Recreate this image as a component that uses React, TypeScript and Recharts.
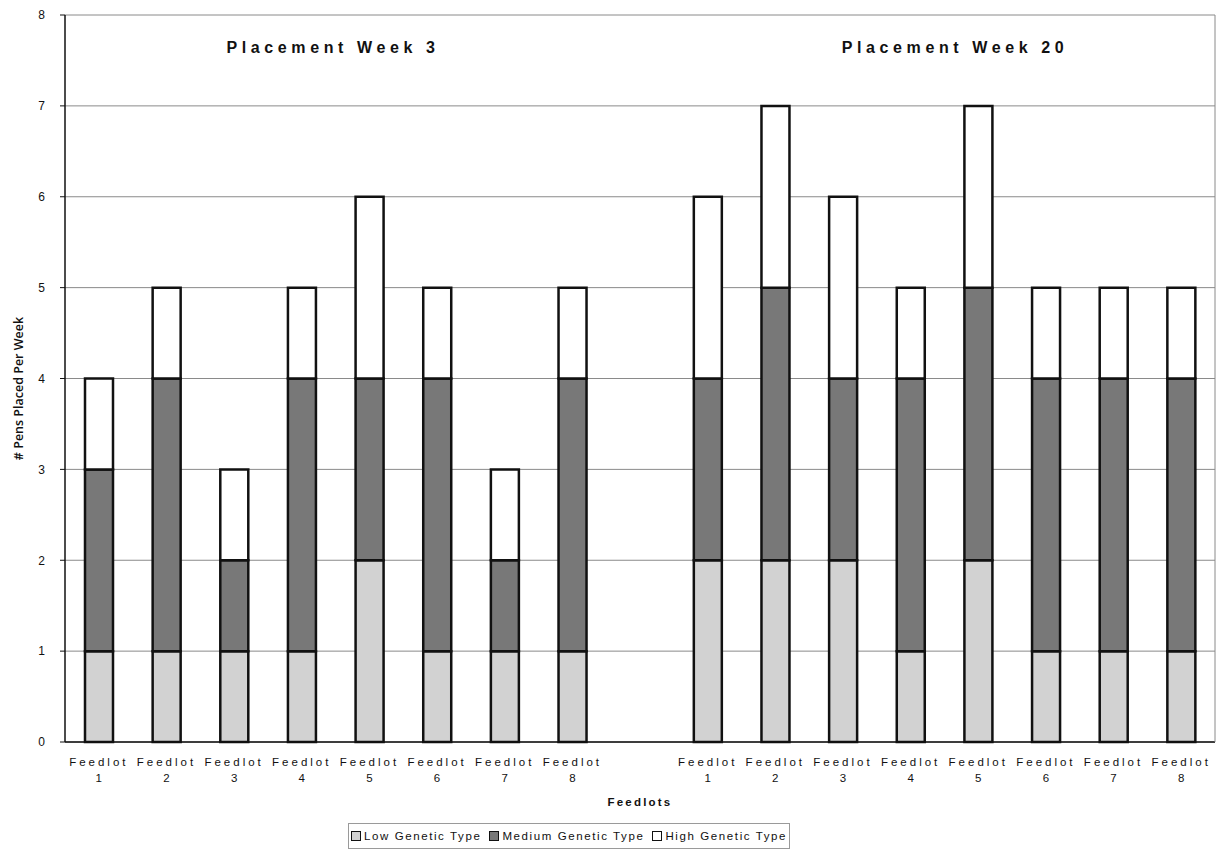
import { BarChart, Bar, XAxis, YAxis, CartesianGrid, Label } from "recharts"

// feedlot slots: week 3 block, an empty spacer, then week 20 block
const feedlots = ["1", "2", "3", "4", "5", "6", "7", "8", "", "1", "2", "3", "4", "5", "6", "7", "8"]
const lowType = [1, 1, 1, 1, 2, 1, 1, 1, null, 2, 2, 2, 1, 2, 1, 1, 1]
const mediumType = [2, 3, 1, 3, 2, 3, 1, 3, null, 2, 3, 2, 3, 3, 3, 3, 3]
const highType = [1, 1, 1, 1, 2, 1, 1, 1, null, 2, 2, 2, 1, 2, 1, 1, 1]
const yTicks = [0, 1, 2, 3, 4, 5, 6, 7, 8]

const series = [
  { key: "low", name: "Low Genetic Type", fill: "#d2d2d2" },
  { key: "medium", name: "Medium Genetic Type", fill: "#787878" },
  { key: "high", name: "High Genetic Type", fill: "#ffffff" },
]

const data = feedlots.map((f, i) => ({
  slot: `s${i}`,
  feedlot: f,
  low: lowType[i],
  medium: mediumType[i],
  high: highType[i],
}))

const font = "'Liberation Sans', Arial, sans-serif"

function FeedlotTick({ x, y, payload }: any) {
  const n = feedlots[payload.index]
  if (!n) return null
  return (
    <g transform={`translate(${x},${y})`}>
      <text x={0} y={16} textAnchor="middle" fontSize={11.5} letterSpacing={3} fill="#111" fontFamily={font}>
        Feedlot
      </text>
      <text x={0} y={32} textAnchor="middle" fontSize={11.5} fill="#111" fontFamily={font}>
        {n}
      </text>
    </g>
  )
}

// axis title rotated, sitting a little below the plot's middle
function PensLabel({ viewBox }: any) {
  const cy = viewBox.y + viewBox.height / 2 + 10
  return (
    <text
      x={18}
      y={cy}
      transform={`rotate(-90, 18, ${cy})`}
      textAnchor="middle"
      dominantBaseline="central"
      fontFamily="'Open Sans', sans-serif"
      fontSize={12.5}
      fontWeight={600}
      fill="#111"
    >
      # Pens Placed Per Week
    </text>
  )
}

const titleStyle: React.CSSProperties = {
  position: "absolute",
  top: 39,
  fontFamily: font,
  fontWeight: "bold",
  fontSize: 16,
  letterSpacing: 4.6,
  color: "#111",
  whiteSpace: "nowrap",
  transform: "translateX(-50%)",
}

export default function App() {
  return (
    <div style={{ position: "absolute", left: 0, top: 0, width: 1221, height: 852, background: "#fff" }}>
      <BarChart
        width={1221}
        height={852}
        data={data}
        margin={{ top: 15, right: 5, left: 0, bottom: 0 }}
        barSize={28}
      >
        <CartesianGrid vertical={false} stroke="#8a8a8a" strokeWidth={1} />
        <XAxis
          dataKey="slot"
          height={110}
          interval={0}
          tickLine={false}
          axisLine={{ stroke: "#111", strokeWidth: 1.5 }}
          tick={<FeedlotTick />}
        >
          <Label
            value="Feedlots"
            position="insideTop"
            offset={56}
            style={{ fontFamily: font, fontSize: 11.5, fontWeight: "bold", letterSpacing: 2.2, fill: "#111" }}
          />
        </XAxis>
        <YAxis
          width={65}
          domain={[0, 8]}
          ticks={yTicks}
          interval={0}
          tickSize={5}
          tickMargin={15}
          axisLine={{ stroke: "#111", strokeWidth: 1.5 }}
          tickLine={{ stroke: "#111" }}
          tick={{ fontSize: 12, fill: "#111", fontFamily: font }}
        >
          <Label content={<PensLabel />} />
        </YAxis>
        <YAxis
          yAxisId="frame"
          orientation="right"
          width={1}
          domain={[0, 8]}
          tick={false}
          tickLine={false}
          axisLine={{ stroke: "#8a8a8a" }}
        />
        {series.map((s) => (
          <Bar
            key={s.key}
            dataKey={s.key}
            name={s.name}
            stackId="pens"
            fill={s.fill}
            stroke="#111"
            strokeWidth={2.5}
            isAnimationActive={false}
          />
        ))}
      </BarChart>

      <div style={{ ...titleStyle, left: 333 }}>Placement Week 3</div>
      <div style={{ ...titleStyle, left: 955 }}>Placement Week 20</div>

      <div
        style={{
          position: "absolute",
          left: 348,
          top: 823,
          width: 442,
          height: 26,
          boxSizing: "border-box",
          border: "1px solid #9a9a9a",
          display: "flex",
          alignItems: "center",
          justifyContent: "center",
          gap: 8,
          fontFamily: font,
          fontSize: 11.5,
          letterSpacing: 1.6,
          color: "#111",
        }}
      >
        {series.map((s) => (
          <span key={s.key} style={{ display: "flex", alignItems: "center" }}>
            <span
              style={{
                display: "inline-block",
                width: 8,
                height: 8,
                background: s.fill,
                border: "1.5px solid #111",
                marginRight: 3,
              }}
            />
            {s.name}
          </span>
        ))}
      </div>
    </div>
  )
}
